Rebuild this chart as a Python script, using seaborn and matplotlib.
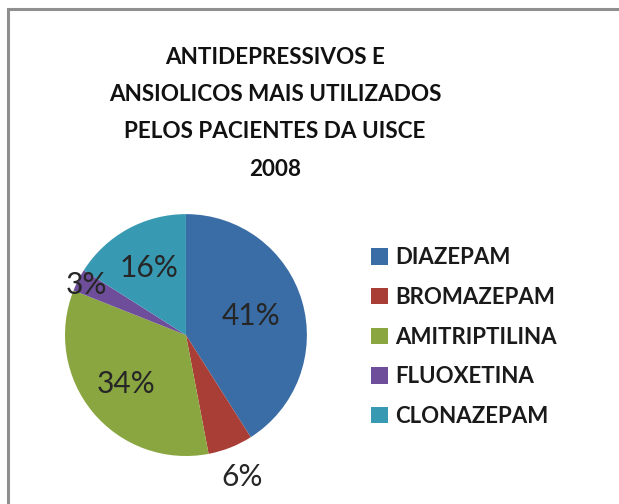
import numpy as np
import seaborn as sns
import matplotlib.pyplot as plt
from matplotlib.patches import Rectangle

# Data
title_lines = ['ANTIDEPRESSIVOS E', 'ANSIOLICOS MAIS UTILIZADOS',
               'PELOS PACIENTES DA UISCE', '2008']
drugs = ['DIAZEPAM', 'BROMAZEPAM', 'AMITRIPTILINA', 'FLUOXETINA', 'CLONAZEPAM']
shares = [41, 6, 34, 3, 16]
colors = ['#3A6DA6', '#A83E36', '#8AA640', '#6E4D9A', '#3899B3']

# label distance from centre (in radius units), as placed in the reference
label_dist = [0.56, 1.26, 0.64, 0.92, 0.63]

sns.set_theme(style='white')
plt.rcParams['font.family'] = ['Lato', 'DejaVu Sans']

fig = plt.figure(figsize=(6.19, 5.04), dpi=100)
ax = fig.add_axes([0.0464, 0.0232, 0.508, 0.624])

wedges, _ = ax.pie(shares, colors=sns.color_palette(colors), startangle=90,
                   counterclock=False, wedgeprops=dict(linewidth=0))
ax.set_xlim(-1.3, 1.3)
ax.set_ylim(-1.3, 1.3)
ax.set_aspect('equal')
ax.axis('off')

# percentage labels
total = sum(shares)
for w, v, d in zip(wedges, shares, label_dist):
    ang = np.deg2rad((w.theta1 + w.theta2) / 2)
    ax.text(d * np.cos(ang), d * np.sin(ang), f'{round(100 * v / total)}%',
            ha='center', va='center', fontsize=21.5, color='#262626')

# title
for i, line in enumerate(title_lines):
    fig.text(0.444, (504 - 57 - 37.4 * i) / 504, line, ha='center', va='center',
             fontsize=16.2, fontweight='bold', color='#111111')

# legend
fig.legend(wedges, drugs, loc='upper left', bbox_to_anchor=(0.585, 0.527),
           frameon=False, prop={'size': 16, 'weight': 'bold'},
           handlelength=0.75, handleheight=0.75, handletextpad=0.35,
           labelspacing=0.84, borderaxespad=0, labelcolor='#1a1a1a')

# chart border (top and left edges visible)
fig.patches.append(Rectangle((7.5 / 619, -0.1), 1.2, (504 - 8.5) / 504 + 0.1,
                             transform=fig.transFigure, fill=False,
                             edgecolor='#8f8f8f', linewidth=2.2))

plt.savefig('out.png')
